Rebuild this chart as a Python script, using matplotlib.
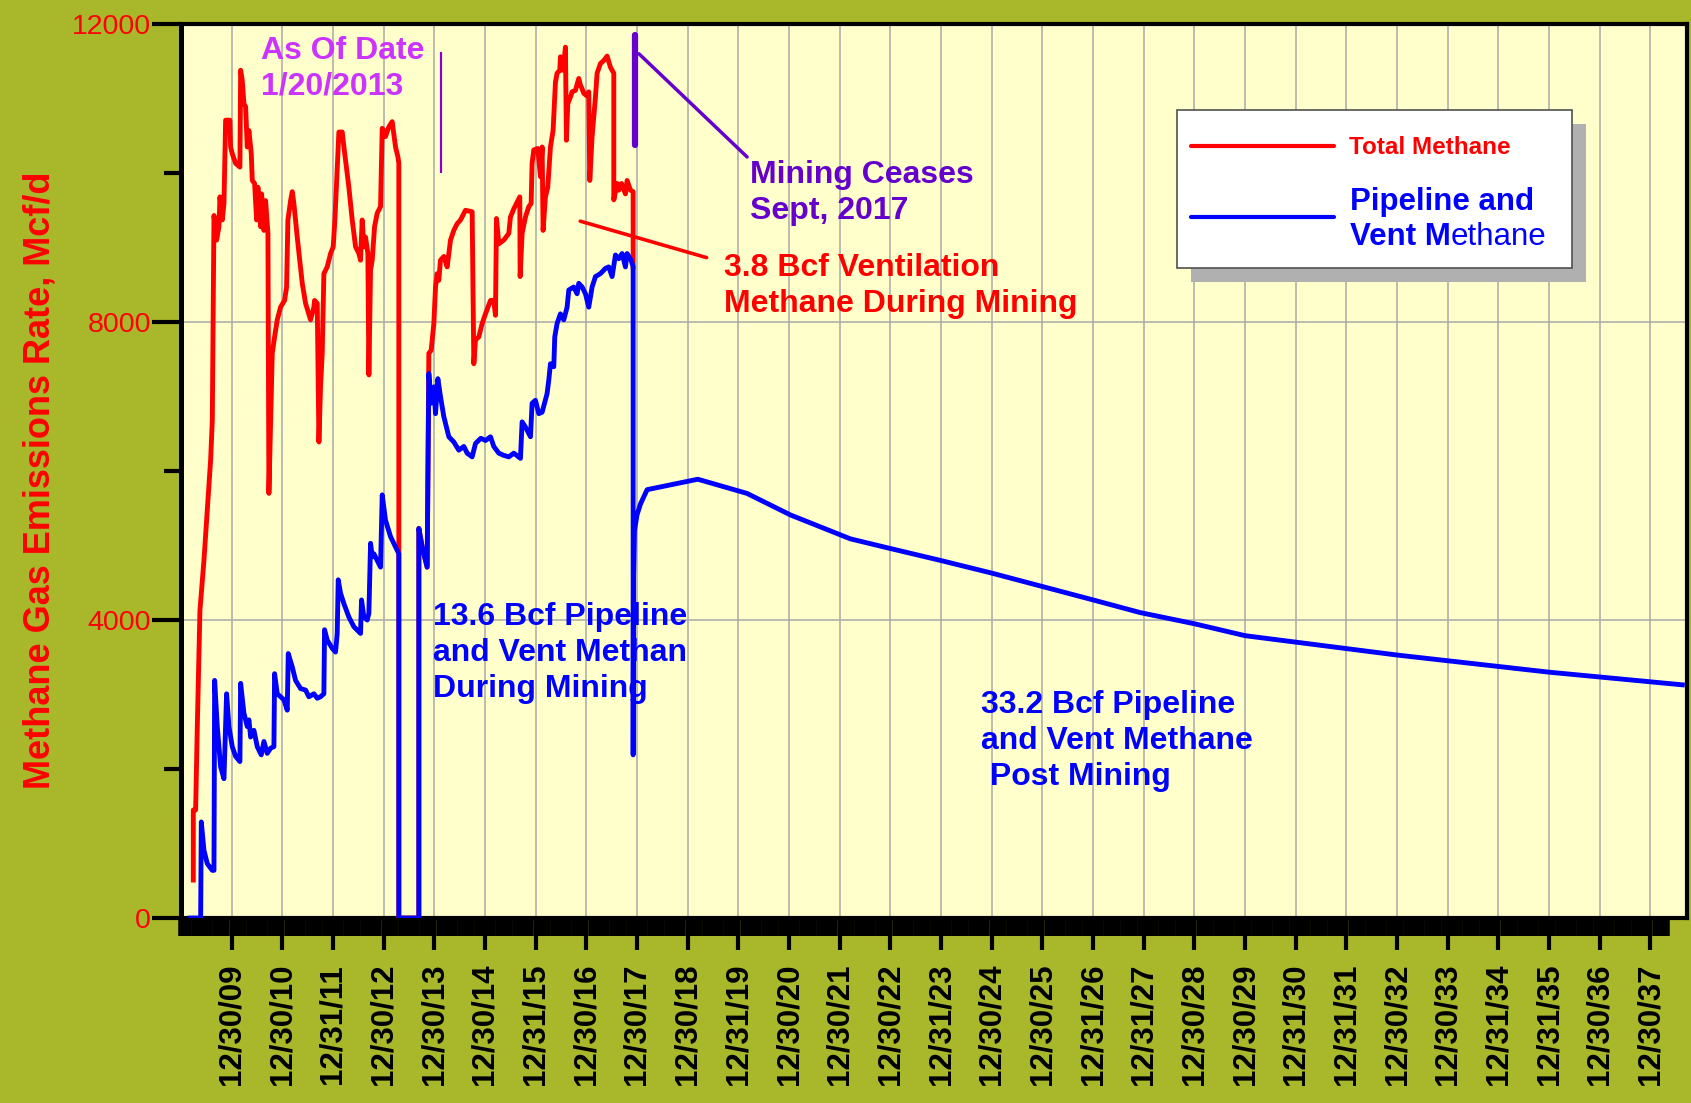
"""
    煤矿甲烷排放量曲线（总甲烷 / 管道与通风甲烷）
"""
import numpy as np
import matplotlib.pyplot as plt
from matplotlib.patches import Rectangle
from matplotlib.lines import Line2D

plt.rcParams['font.family'] = ['Liberation Sans', 'DejaVu Sans']

# 横坐标用十进制年份：刻度 12/30/09 = 2010.0，之后每年一格
total_t = [2009.244, 2009.244, 2009.290, 2009.323, 2009.375, 2009.454, 2009.520, 2009.586,
           2009.619, 2009.652, 2009.704, 2009.750, 2009.770, 2009.816, 2009.849, 2009.882,
           2009.967, 2009.980, 2010.013, 2010.079, 2010.164, 2010.178, 2010.210, 2010.243,
           2010.276, 2010.309, 2010.342, 2010.388, 2010.408, 2010.454, 2010.493, 2010.519,
           2010.572, 2010.592, 2010.638, 2010.671, 2010.717, 2010.736, 2010.802, 2010.848,
           2010.901, 2010.966, 2011.045, 2011.085, 2011.111, 2011.164, 2011.197, 2011.229,
           2011.295, 2011.394, 2011.460, 2011.558, 2011.624, 2011.637, 2011.690, 2011.723,
           2011.755, 2011.788, 2011.821, 2011.887, 2011.953, 2012.005, 2012.038, 2012.084,
           2012.117, 2012.183, 2012.216, 2012.314, 2012.380, 2012.446, 2012.512, 2012.544,
           2012.577, 2012.610, 2012.643, 2012.689, 2012.709, 2012.742, 2012.775, 2012.821,
           2012.873, 2012.939, 2012.972, 2013.005, 2013.037, 2013.103, 2013.169, 2013.235,
           2013.281, 2013.300, 2013.300, 2013.695, 2013.695, 2013.761, 2013.859, 2013.892,
           2013.938, 2013.991, 2014.024, 2014.056, 2014.089, 2014.122, 2014.188, 2014.254,
           2014.287, 2014.320, 2014.385, 2014.451, 2014.517, 2014.615, 2014.747, 2014.780,
           2014.813, 2014.878, 2014.944, 2015.010, 2015.109, 2015.174, 2015.207, 2015.227,
           2015.273, 2015.372, 2015.470, 2015.503, 2015.569, 2015.635, 2015.687, 2015.694,
           2015.733, 2015.799, 2015.865, 2015.911, 2015.930, 2015.963, 2016.042, 2016.095,
           2016.128, 2016.147, 2016.193, 2016.239, 2016.292, 2016.344, 2016.371, 2016.391,
           2016.423, 2016.476, 2016.489, 2016.522, 2016.555, 2016.588, 2016.607, 2016.634,
           2016.686, 2016.719, 2016.785, 2016.851, 2016.884, 2016.917, 2016.950, 2017.002,
           2017.048, 2017.068, 2017.114, 2017.180, 2017.213, 2017.279, 2017.345, 2017.410,
           2017.476, 2017.542, 2017.542, 2017.608, 2017.641, 2017.694, 2017.772, 2017.805,
           2017.871, 2017.924, 2017.924]
total_v = [510, 1450, 1450, 2570, 4130, 4800, 5480, 6150,
           6680, 9430, 9100, 9280, 9680, 9370, 9590, 10710,
           10710, 10350, 10260, 10130, 10080, 11380, 11245, 10930,
           10890, 10350, 10570, 10260, 9900, 9860, 9370, 9810,
           9280, 9720, 9230, 9630, 9190, 5700, 7580, 7800,
           8030, 8200, 8290, 8470, 9370, 9630, 9750, 9590,
           9140, 8520, 8250, 8030, 8200, 8290, 8250, 6390,
           7130, 7580, 8650, 8740, 8920, 9010, 9370, 10040,
           10550, 10550, 10350, 9810, 9370, 9010, 8920, 8830,
           9370, 9010, 9140, 8920, 7290, 8700, 8830, 9280,
           9460, 9550, 10600, 10570, 10490, 10620, 10690, 10350,
           10220, 10130, 0, 0, 5230, 4980, 4710, 7580,
           7620, 7980, 8470, 8650, 8560, 8830, 8880, 8740,
           8920, 9100, 9230, 9320, 9370, 9500, 9480, 7440,
           7760, 7800, 7980, 8110, 8290, 8290, 8090, 9390,
           9050, 9100, 9190, 9410, 9520, 9610, 9680, 8610,
           9190, 9410, 9550, 9590, 10130, 10310, 10330, 9950,
           10350, 9230, 9680, 9810, 10350, 10570, 10930, 11220,
           11340, 11380, 11560, 11380, 11470, 11690, 10440, 10930,
           11020, 11090, 11110, 11270, 11180, 11130, 11070, 11040,
           11090, 9900, 10490, 11020, 11340, 11470, 11510, 11570,
           11420, 11340, 9640, 9860, 9770, 9860, 9720, 9900,
           9770, 9750, 8740]

pipe_t = [2009.191, 2009.389, 2009.402, 2009.454, 2009.520, 2009.619, 2009.652, 2009.665,
          2009.717, 2009.783, 2009.849, 2009.901, 2009.947, 2010.013, 2010.079, 2010.164,
          2010.178, 2010.243, 2010.309, 2010.342, 2010.375, 2010.440, 2010.506, 2010.585,
          2010.638, 2010.703, 2010.769, 2010.835, 2010.848, 2010.901, 2010.966, 2011.032,
          2011.098, 2011.118, 2011.197, 2011.262, 2011.361, 2011.460, 2011.525, 2011.624,
          2011.690, 2011.755, 2011.821, 2011.834, 2011.887, 2011.986, 2012.051, 2012.084,
          2012.104, 2012.150, 2012.216, 2012.314, 2012.413, 2012.544, 2012.564, 2012.610,
          2012.676, 2012.709, 2012.742, 2012.775, 2012.807, 2012.873, 2012.939, 2012.972,
          2013.037, 2013.136, 2013.235, 2013.300, 2013.300, 2013.695, 2013.695, 2013.761,
          2013.859, 2013.892, 2013.938, 2013.991, 2014.024, 2014.070, 2014.122, 2014.188,
          2014.287, 2014.385, 2014.484, 2014.583, 2014.648, 2014.747, 2014.813, 2014.918,
          2015.010, 2015.109, 2015.174, 2015.273, 2015.372, 2015.470, 2015.569, 2015.700,
          2015.733, 2015.799, 2015.898, 2015.930, 2015.996, 2016.062, 2016.128, 2016.226,
          2016.259, 2016.292, 2016.358, 2016.377, 2016.423, 2016.489, 2016.555, 2016.621,
          2016.654, 2016.752, 2016.818, 2016.851, 2016.917, 2016.983, 2017.048, 2017.114,
          2017.180, 2017.279, 2017.377, 2017.443, 2017.509, 2017.575, 2017.641, 2017.706,
          2017.772, 2017.805, 2017.884, 2017.924, 2017.924, 2017.930, 2017.950, 2018.000,
          2018.070, 2018.200, 2019.200, 2020.170, 2021.030, 2022.210, 2023.000, 2023.990,
          2025.000, 2026.000, 2027.000, 2027.930, 2029.000, 2030.000, 2033.000, 2036.000,
          2038.630]
pipe_v = [0, 0, 1290, 910, 730, 640, 640, 3190,
          2570, 2030, 1870, 3010, 2570, 2300, 2170, 2100,
          3150, 2750, 2570, 2660, 2430, 2520, 2300, 2190,
          2370, 2210, 2280, 2300, 3280, 3010, 2970, 2930,
          2790, 3550, 3370, 3190, 3080, 3060, 2970, 3010,
          2950, 2970, 3010, 3870, 3730, 3620, 3570, 3820,
          4540, 4360, 4220, 4040, 3910, 3820, 4270, 4040,
          4000, 4090, 5030, 4850, 4890, 4800, 4710, 5680,
          5340, 5120, 4980, 4890, 0, 0, 5230, 4980,
          4710, 7310, 6910, 7130, 6770, 7240, 7000, 6730,
          6460, 6390, 6280, 6330, 6240, 6190, 6370, 6440,
          6410, 6460, 6330, 6240, 6210, 6190, 6240, 6170,
          6660, 6590, 6460, 6910, 6950, 6770, 6790, 7040,
          7220, 7440, 7400, 7800, 7980, 8110, 8030, 8200,
          8430, 8470, 8380, 8520, 8470, 8380, 8200, 8470,
          8610, 8650, 8720, 8740, 8610, 8900, 8850, 8920,
          8740, 8920, 8830, 8740, 2190, 4500, 5200, 5410,
          5560, 5750, 5890, 5700, 5410, 5090, 4960, 4800,
          4630, 4450, 4270, 4100, 3950, 3790, 3530, 3300,
          3130]

date_labels = ['12/30/09', '12/30/10', '12/31/11', '12/30/12', '12/30/13', '12/30/14',
               '12/31/15', '12/30/16', '12/30/17', '12/30/18', '12/31/19', '12/30/20',
               '12/30/21', '12/30/22', '12/31/23', '12/30/24', '12/30/25', '12/31/26',
               '12/31/27', '12/30/28', '12/30/29', '12/31/30', '12/31/31', '12/30/32',
               '12/30/33', '12/31/34', '12/31/35', '12/30/36', '12/30/37']
y_major = [0, 4000, 8000, 12000]
y_minor = [2000, 6000, 10000]

# 标注用的事件时间
as_of_t = 2014.132
cease_t = 2017.968

olive = '#A8B82A'
red = '#FF0000'
blue = '#0000FF'
purple = '#6600CC'

fig = plt.figure(figsize=(16.91, 11.03), dpi=100, facecolor=olive)
ax = fig.add_axes([0.1070, 0.1677, 0.8906, 0.8105], facecolor='#FFFFCC')

ax.set_xlim(2009.014, 2038.72)
ax.set_ylim(0, 12000)

tick_pos = np.arange(2010, 2010 + len(date_labels))

# 网格线：每个年份刻度一条竖线，4000/8000 两条横线
ax.vlines(tick_pos, 0, 12000, color='#A8A8A8', lw=1.1, zorder=1)
ax.hlines([4000, 8000], 2009.014, 2038.72, color='#A8A8A8', lw=1.1, zorder=1)

ax.plot(total_t, total_v, color=red, lw=3.5, solid_joinstyle='round', zorder=3)
ax.plot(pipe_t, pipe_v, color=blue, lw=3.5, solid_joinstyle='round', zorder=4)

ax.set_xticks(tick_pos)
ax.set_xticklabels(date_labels, rotation=90, fontsize=22.5, fontweight='bold')
ax.set_xticks(np.arange(2009.0, 2038.4, 1 / 12), minor=True)
ax.tick_params(axis='x', which='major', direction='out', length=23, width=3, pad=10)
ax.tick_params(axis='x', which='minor', direction='out', length=13, width=4)

ax.set_yticks(y_major)
ax.set_yticklabels([str(v) for v in y_major], fontsize=20.5, color=red)
ax.set_yticks(y_minor, minor=True)
ax.tick_params(axis='y', which='major', direction='out', length=21, width=3, pad=0.5)
ax.tick_params(axis='y', which='minor', direction='out', length=12, width=3)

for s in ax.spines.values():
    s.set_linewidth(3)
    s.set_color('black')
ax.spines['left'].set_linewidth(3.6)

fig.text(40 / 1691, 1 - 480 / 1103, 'Methane Gas Emissions Rate, Mcf/d', rotation=90,
         ha='center', va='center', fontsize=26, fontweight='bold', color=red)

# 标注
bold = dict(fontsize=23, fontweight='bold', ha='left', va='top', linespacing=1.26)
ax.text(2010.572, 11840, 'As Of Date\n1/20/2013', color='#CC33FF', **bold)
ax.vlines(as_of_t, 10000, 11630, color='#8800CC', lw=1.6)
ax.vlines(cease_t, 10374, 11850, color=purple, lw=4.5, capstyle='round', zorder=5)
ax.annotate('Mining Ceases\nSept, 2017', xy=(2018.04, 11600), xytext=(2020.228, 10180),
            color=purple, arrowprops=dict(arrowstyle='-', color=purple, lw=2.5,
                                          relpos=(0, 1), shrinkA=0, shrinkB=0), **bold)
ax.annotate('3.8 Bcf Ventilation\nMethane During Mining', xy=(2016.88, 9354),
            xytext=(2019.718, 8930), color=red,
            arrowprops=dict(arrowstyle='-', color=red, lw=2.6, relpos=(0, 0.85),
                            shrinkA=11, shrinkB=0), **bold)
ax.text(2013.984, 4240, '13.6 Bcf Pipeline\nand Vent Methan\nDuring Mining', color=blue, **bold)
ax.text(2024.787, 3060, '33.2 Bcf Pipeline\nand Vent Methane\n Post Mining', color=blue, **bold)

# 图例（带阴影的白框）
tr = ax.transAxes
ax.add_patch(Rectangle((0.6710, 0.7117), 0.2619, 0.1764, transform=tr, fc='#B0B0B0',
                       ec='none', zorder=6, clip_on=False))
ax.add_patch(Rectangle((0.6617, 0.7274), 0.2619, 0.1764, transform=tr, fc='white',
                       ec='#505050', lw=1.2, zorder=7, clip_on=False))
ax.add_line(Line2D([0.6705, 0.7658], [0.8639, 0.8639], transform=tr, color=red, lw=3,
                   solid_capstyle='round', zorder=8))
ax.add_line(Line2D([0.6705, 0.7658], [0.7845, 0.7845], transform=tr, color=blue, lw=3,
                   solid_capstyle='round', zorder=8))
ax.text(0.7756, 0.8546, 'Total Methane', transform=tr, fontsize=17.5, fontweight='bold',
        color=red, va='baseline', zorder=9)
ax.text(0.7762, 0.7919, 'Pipeline and', transform=tr, fontsize=22.5, fontweight='bold',
        color=blue, va='baseline', zorder=9)
t1 = ax.text(0.7762, 0.7528, 'Vent M', transform=tr, fontsize=22.5, fontweight='bold',
             color=blue, va='baseline', zorder=9)
ax.annotate('ethane', xy=(1, 0), xycoords=t1, va='bottom', ha='left', fontsize=22.5,
            color=blue, zorder=9)

plt.savefig('out.png', dpi=100, facecolor=olive)
